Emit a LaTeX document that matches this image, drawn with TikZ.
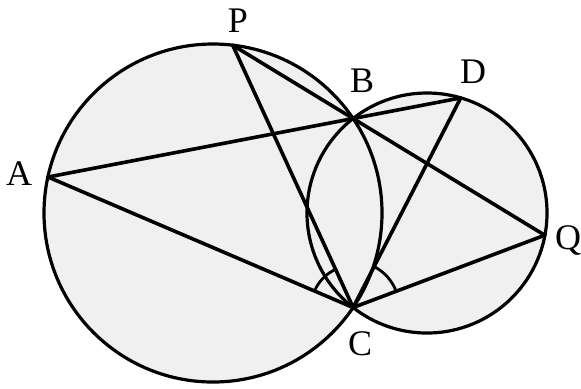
\documentclass[tikz,border=0pt]{standalone}
\usepackage{fontspec}
\setmainfont{Liberation Serif}
\begin{document}
\begin{tikzpicture}[x=0.5pt,y=-0.5pt,line join=round,line cap=round,
  lbl/.style={font=\fontsize{18}{20}\selectfont,inner sep=0pt},
  disc/.style={fill=gray!12},
  rim/.style={draw=black,line width=1.6pt},
  seg/.style={draw=black,line width=1.8pt},
  anglemark/.style={draw=black,line width=1.4pt}]
\useasboundingbox (0,0) rectangle (581,388);
% centres and points
\coordinate (O1) at (213,213);
\coordinate (O2) at (427,213);
\coordinate (A) at (48,177);
\coordinate (P) at (232.7,45.2);
\coordinate (B) at (353.1,118.5);
\coordinate (C) at (353.1,307.5);
\coordinate (D) at (460.7,97.9);
\coordinate (Q) at (544.8,235.2);
% discs
\fill[disc] (O1) circle[radius=169];
\fill[disc] (O2) circle[radius=120];
\draw[rim] (O1) circle[radius=169];
\draw[rim] (O2) circle[radius=120];
% segments
\draw[seg] (A) -- (D);
\draw[seg] (P) -- (Q);
\draw[seg] (A) -- (C);
\draw[seg] (P) -- (C);
\draw[seg] (D) -- (C);
\draw[seg] (Q) -- (C);
% angle marks
\draw[anglemark] ([shift={(-156.8:42)}]C) arc[start angle=-156.8,end angle=-114.7,radius=42];
\draw[anglemark] ([shift={(-20.7:46)}]C) arc[start angle=-20.7,end angle=-62.8,radius=46];
% labels
\node[lbl] (lA) at (19,174) {A};
\node[lbl] (lP) at (238,21) {P};
\node[lbl] (lB) at (362,81) {B};
\node[lbl] (lD) at (473,72) {D};
\node[lbl] (lQ) at (568,240) {Q};
\node[lbl] (lC) at (360,344) {C};
\end{tikzpicture}
\end{document}
